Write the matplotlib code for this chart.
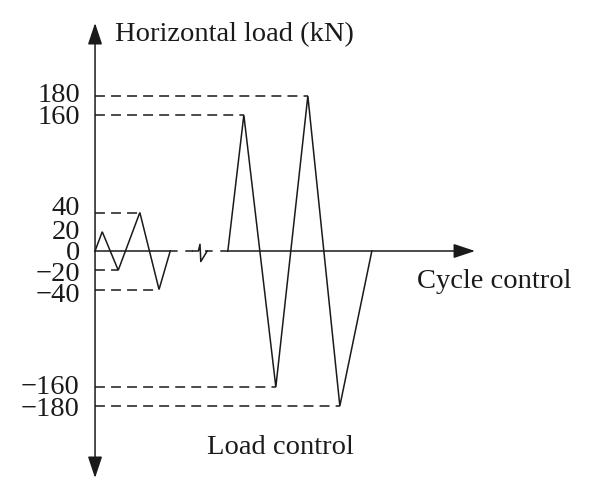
import numpy as np
import matplotlib
matplotlib.use("Agg")
import matplotlib.pyplot as plt
from matplotlib.transforms import offset_copy

# load levels (kN) and cycle positions
small_x = [0, 0.45, 1.45, 2.8, 4.0, 4.7]
small_load = [0, 20, -20, 40, -40, 0]
large_x = [8.3, 9.3, 11.3, 13.3, 15.3, 17.3]
large_load = [0, 160, -160, 180, -180, 0]
tick_vals = [180, 160, 40, 20, 0, -20, -40, -160, -180]
# small nudges (px) of the tick labels, as in the drawing where they crowd
tick_nudge = [3, 0, 7, 2, 1, -1, -3, 2, -1]
dashed_levels = [(40, 2.8), (-20, 1.45), (-40, 4.0),
                 (160, 9.3), (-160, 11.3), (180, 13.3), (-180, 15.3)]
break_x = 6.56
x_end = 23.75

# the drawing is not to scale: piecewise map of load -> drawing height
brk_load = [-400, -180, -160, -40, 0, 40, 160, 180, 400]
brk_draw = [-364, -155, -136, -38.5, 0, 38.5, 136, 155, 364]


def fwd(y):
    return np.interp(y, brk_load, brk_draw)


def inv(s):
    return np.interp(s, brk_draw, brk_load)


plt.rcParams['font.family'] = ['Liberation Serif', 'DejaVu Serif']

fig = plt.figure(figsize=(6, 5.01), dpi=100)
ax = fig.add_axes([0, 0, 1, 1])
ax.set_yscale('function', functions=(fwd, inv))
ax.set_xlim(-5.94, 31.56)
ax.set_ylim(float(inv(-250)), float(inv(251)))
ax.axis('off')

lw = 1.1
dash = (0, (6.5, 4))
col = '#1a1a1a'
fs = 20.5
head = dict(color=col, lw=lw, mutation_scale=22, shrinkA=0, shrinkB=0)

# waveform
ax.plot(small_x, small_load, color=col, lw=lw, solid_joinstyle='miter')
ax.plot(large_x, large_load, color=col, lw=lw, solid_joinstyle='miter')

# axes with arrows
ax.annotate('', xy=(0, float(inv(228))), xytext=(0, float(inv(-227))),
            arrowprops=dict(arrowstyle='<|-|>,head_length=0.6,head_width=0.2', **head))
ax.plot([0, small_x[-1]], [0, 0], color=col, lw=lw)
ax.annotate('', xy=(x_end, 0), xytext=(large_x[0], 0),
            arrowprops=dict(arrowstyle='-|>,head_length=0.6,head_width=0.2', **head))
ax.plot([small_x[-1], break_x - 0.3], [0, 0], color=col, lw=lw, ls=(0, (5, 5)))
ax.plot([break_x + 0.3, large_x[0]], [0, 0], color=col, lw=lw, ls=(0, (5, 5)))
# break symbol
ax.plot([break_x - 0.45, break_x - 0.1, break_x, break_x + 0.05, break_x + 0.45],
        [0, 0, 7, -11, 0], color=col, lw=lw)

# dashed guide lines
for lev, xp in dashed_levels:
    ax.plot([0, xp], [lev, lev], color=col, lw=lw, ls=dash)

for v, dy in zip(tick_vals, tick_nudge):
    tr = offset_copy(ax.transData, fig=fig, x=0, y=dy, units='dots')
    ax.text(-0.95, v, '\u2212' + str(-v) if v < 0 else str(v), ha='right',
            va='center_baseline', fontsize=fs, color=col, transform=tr)

ax.text(1.25, float(inv(216)), 'Horizontal load (kN)', ha='left', va='center',
        fontsize=fs, color=col)
ax.text(20.1, float(inv(-31)), 'Cycle control', ha='left', va='center',
        fontsize=fs, color=col)
ax.text(7.0, float(inv(-197)), 'Load control', ha='left', va='center',
        fontsize=fs, color=col)

fig.savefig('out.png', dpi=100)
